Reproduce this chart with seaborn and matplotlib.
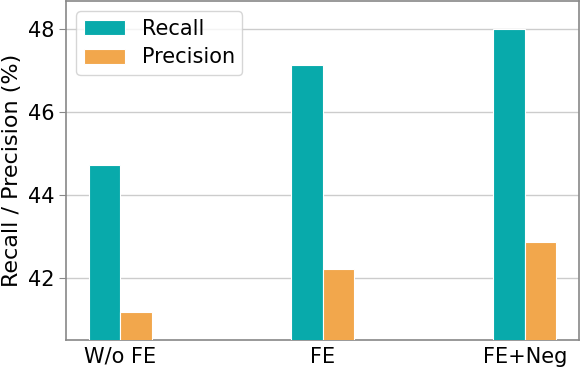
import matplotlib
matplotlib.use("Agg")
import matplotlib.pyplot as plt
import seaborn as sns
import pandas as pd

categories = ["W/o FE", "FE", "FE+Neg"]
recall = [44.72, 47.14, 48.01]
precision = [41.18, 42.23, 42.86]

df = pd.DataFrame({
    "cat": categories * 2,
    "metric": ["Recall"] * 3 + ["Precision"] * 3,
    "value": recall + precision,
})

sns.set_style("white")
plt.rcParams['font.family'] = ['DejaVu Sans']
plt.rcParams['text.color'] = 'black'
plt.rcParams['axes.labelcolor'] = 'black'
plt.rcParams['xtick.color'] = 'black'
plt.rcParams['ytick.color'] = 'black'

fig = plt.figure(figsize=(5.81, 3.69), dpi=100)
ax = fig.add_axes([66/581, 1 - 340/369, (579-66)/581, (340-1)/369])

sns.barplot(data=df, x="cat", y="value", hue="metric",
            palette={"Recall": "#08AAAB", "Precision": "#F2A74C"},
            saturation=1, width=0.31, gap=0.0, edgecolor="white", linewidth=0.8,
            ax=ax, zorder=3)

ax.set_ylim(40.51, 48.68)
ax.set_xlim(-0.268, 2.268)
ax.set_yticks([42, 44, 46, 48])
ax.yaxis.grid(True, color="#cccccc", linewidth=1, zorder=0)
ax.set_axisbelow(True)
ax.set_xlabel("")
ax.set_ylabel("Recall / Precision (%)", fontsize=16)
ax.yaxis.set_label_coords(-0.085, 0.5)
ax.tick_params(axis="both", labelsize=15, length=5, color="#888888",
               labelcolor="black", direction="out")
ax.tick_params(axis="x", length=0, pad=5)
ax.tick_params(axis="y", left=True)
for s in ax.spines.values():
    s.set_color("#888888")
    s.set_linewidth(1.2)

leg = ax.legend(loc="upper left", fontsize=15, frameon=True, handlelength=2.0,
                handleheight=0.72, handletextpad=0.8, borderpad=0.35,
                labelspacing=0.42, bbox_to_anchor=(0.0, 1.0))
leg.get_frame().set_edgecolor("#cccccc")
leg.get_frame().set_linewidth(1.0)
for t in leg.get_texts():
    t.set_color("black")

fig.savefig("out.png", dpi=100)
